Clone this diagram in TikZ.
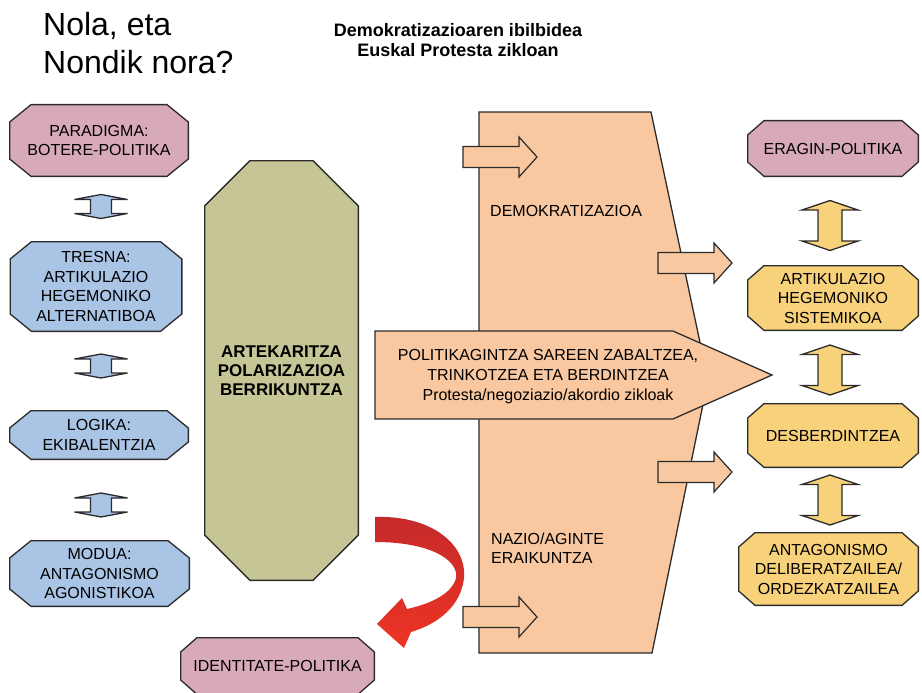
\documentclass[tikz,border=0pt]{standalone}
\usepackage{fontspec}
\setmainfont{Liberation Sans}
\definecolor{arrosa}{HTML}{D8A9BA}
\definecolor{urdin}{HTML}{A9C4E5}
\definecolor{berde}{HTML}{C5C595}
\definecolor{laranja}{HTML}{F9C8A0}
\definecolor{hori}{HTML}{F8D17B}
\definecolor{gorri}{HTML}{EE3424}
\definecolor{gorrilun}{HTML}{C42A2A}
\definecolor{marra}{HTML}{2B2B2B}
\begin{document}
\begin{tikzpicture}[x=1pt,y=-1pt,inner sep=0pt,
		testu/.style={font=\fontsize{16}{19.5}\selectfont},
		ertza/.style={draw=marra,line width=1.3pt},
		% kutxa oktogonala: x-ebakia, y-ebakia, kolorea
		kutxa/.style n args={3}{rectangle,align=center,testu,path picture={
			\draw[ertza,fill=#3] ([xshift=#1,yshift=-.65pt]path picture bounding box.north west) -- ([xshift=-#1,yshift=-.65pt]path picture bounding box.north east)
			-- ([xshift=-.65pt,yshift=-#2]path picture bounding box.north east) -- ([xshift=-.65pt,yshift=#2]path picture bounding box.south east)
			-- ([xshift=-#1,yshift=.65pt]path picture bounding box.south east) -- ([xshift=#1,yshift=.65pt]path picture bounding box.south west)
			-- ([xshift=.65pt,yshift=#2]path picture bounding box.south west) -- ([xshift=.65pt,yshift=-#2]path picture bounding box.north west) -- cycle;}},
		ezker/.style={kutxa={22pt}{18pt}{#1},minimum width=180pt},
		eskuin/.style={kutxa={17pt}{15pt}{#1},minimum width=172pt},
		gezi/.pic={\draw[ertza,line width=1.2pt,fill=laranja] (-37,-10.5) -- (19,-10.5) -- (19,-20) -- (37,0) -- (19,20) -- (19,10.5) -- (-37,10.5) -- cycle;},
		bigeziezker/.pic={\draw[ertza,fill=urdin] (0,-12) -- (26.5,-7) -- (10.5,-7) -- (10.5,7) -- (26.5,7) -- (0,12) -- (-26.5,7) -- (-10.5,7) -- (-10.5,-7) -- (-26.5,-7) -- cycle;},
		bigeziesk/.pic={\draw[ertza,fill=hori] (0,-25) -- (28,-15.5) -- (12,-15.5) -- (12,15.5) -- (28,15.5) -- (0,25) -- (-28,15.5) -- (-12,15.5) -- (-12,-15.5) -- (-28,-15.5) -- cycle;}]
	\useasboundingbox (0,0) rectangle (922,693);
	% izenburuak
	\node [anchor=west,align=left,font=\fontsize{32}{38}\selectfont] (izenburu) at (43,43.5) {Nola, eta\\Nondik nora?};
	\node [align=center,font=\bfseries\fontsize{18}{20}\selectfont] (azpititulu) at (458,40.2) {Demokratizazioaren ibilbidea\\Euskal Protesta zikloan};
	% ezkerreko zutabea
	\node [ezker=arrosa,minimum height=73pt] (paradigma) at (99,140.5) {PARADIGMA:\\BOTERE-POLITIKA};
	\node [ezker=urdin,minimum width=173pt,minimum height=91pt] (tresna) at (96,286.5) {TRESNA:\\ARTIKULAZIO\\HEGEMONIKO\\ALTERNATIBOA};
	\node [ezker=urdin,minimum height=50pt] (logika) at (99,435) {LOGIKA:\\EKIBALENTZIA};
	\node [ezker=urdin,minimum width=181pt,minimum height=67pt] (modua) at (99.5,573.5) {MODUA:\\ANTAGONISMO\\AGONISTIKOA};
	\pic at (101,206.5) {bigeziezker};
	\pic at (101,366) {bigeziezker};
	\pic at (101,505) {bigeziezker};
	% erdikoa
	\node [kutxa={46pt}{46pt}{berde},minimum width=155pt,minimum height=421pt,font=\bfseries\fontsize{17}{19}\selectfont] (artekaritza) at (281.5,370.5) {ARTEKARITZA\\POLARIZAZIOA\\BERRIKUNTZA};
	\node [kutxa={17pt}{15pt}{arrosa},minimum width=195pt,minimum height=58pt] (identitate) at (277.5,666) {IDENTITATE-POLITIKA};
	% ibilbidea
	\draw [ertza,fill=laranja] (479,112) -- (651,112) -- (708,380) -- (652,653) -- (479,653) -- cycle;
	\pic at (500,157) {gezi};
	\pic at (695,263) {gezi};
	\pic at (695,472) {gezi};
	\pic at (500,617) {gezi};
	\node [anchor=west,testu] (demokr) at (490,211) {DEMOKRATIZAZIOA};
	\node [anchor=west,align=left,testu] (nazio) at (491,548.5) {NAZIO/AGINTE\\ERAIKUNTZA};
	\draw [ertza,fill=laranja] (375,331) -- (673,331) -- (772,375) -- (673,419) -- (375,419) -- cycle;
	\node [align=center,font=\fontsize{16}{20}\selectfont] (sareak) at (548,377) {POLITIKAGINTZA SAREEN ZABALTZEA,\\TRINKOTZEA ETA BERDINTZEA\\Protesta/negoziazio/akordio zikloak};
	% gezi gorria
	\shade [top color=gorrilun,bottom color=gorri] (375,517) .. controls (432,515) and (467,545) .. (464,578) .. controls (461,606) and (438,624) .. (411,632) -- (404,648) -- (377,624) -- (402,598) -- (407,609) .. controls (430,604) and (452,594) .. (456,578) .. controls (459,560) and (430,542) .. (375,542) -- cycle;
	% eskuineko zutabea
	\node [eskuin=arrosa,minimum height=57pt] (eragin) at (833,148.5) {ERAGIN-POLITIKA};
	\node [eskuin=hori,minimum height=66pt] (sistemikoa) at (833,298) {ARTIKULAZIO\\HEGEMONIKO\\SISTEMIKOA};
	\node [eskuin=hori,minimum height=65pt] (desberdin) at (833,435.5) {DESBERDINTZEA};
	\node [eskuin=hori,minimum width=181pt,minimum height=74pt] (antagonismo) at (828.5,569) {ANTAGONISMO\\DELIBERATZAILEA/\\ORDEZKATZAILEA};
	\pic at (830,225.5) {bigeziesk};
	\pic at (830,370) {bigeziesk};
	\pic at (830,500) {bigeziesk};
\end{tikzpicture}
\end{document}
